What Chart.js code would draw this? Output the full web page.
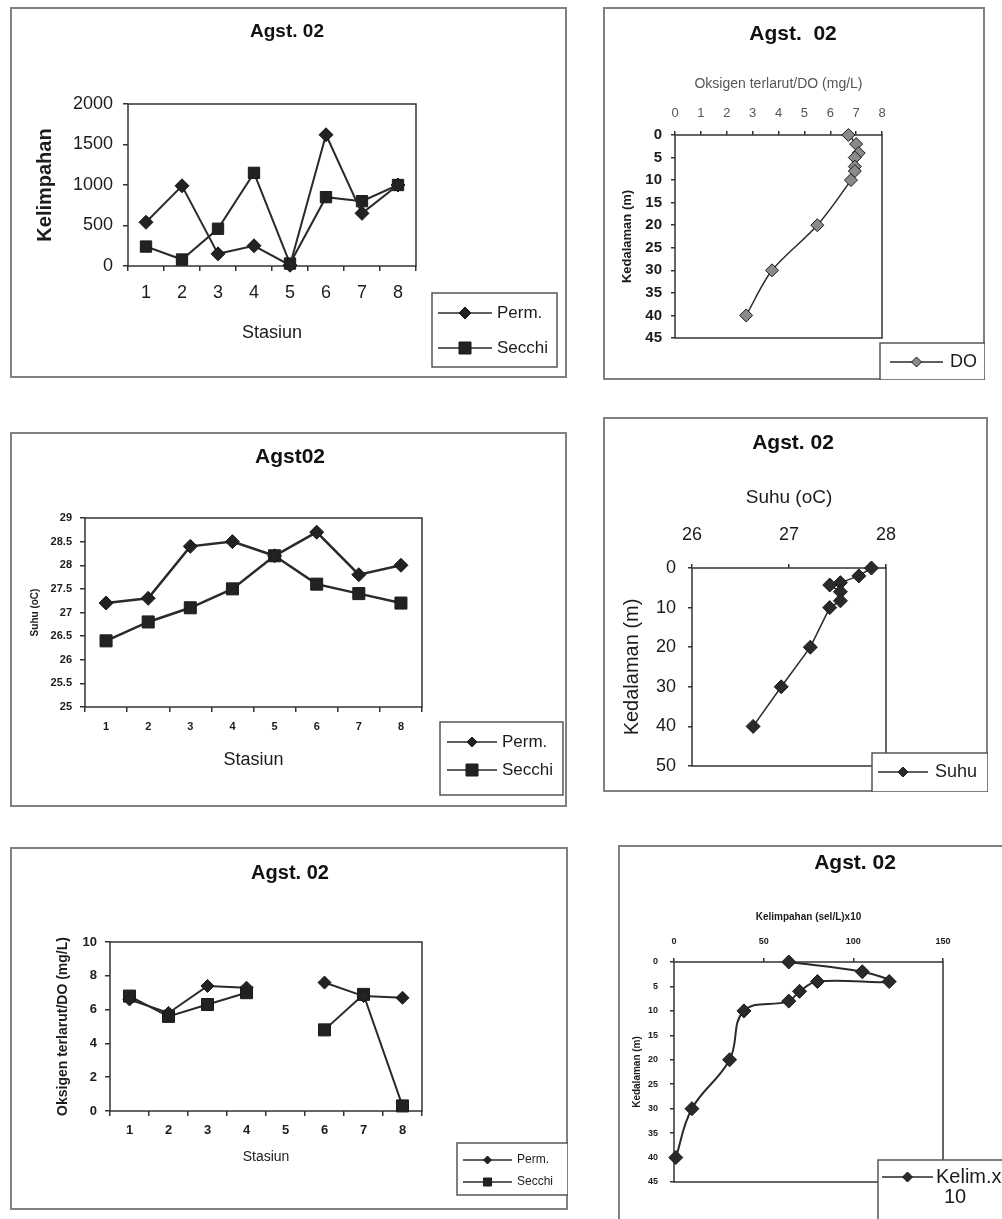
<!DOCTYPE html>
<html>
<head>
<meta charset="utf-8">
<script src="https://cdn.jsdelivr.net/npm/chart.js@4.4.1/dist/chart.umd.min.js"></script>
<style>
  body { margin: 0; background: #fff; }
  #page { position: relative; width: 1002px; height: 1219px; overflow: hidden; background: #fff; }
  canvas { position: absolute; }
</style>
</head>
<body>
<div id="page">
  <canvas id="kelimChart" width="557" height="371" style="left:10px;top:7px"></canvas>
  <canvas id="doProfileChart" width="382" height="373" style="left:603px;top:7px"></canvas>
  <canvas id="suhuChart" width="557" height="375" style="left:10px;top:432px"></canvas>
  <canvas id="suhuProfileChart" width="385" height="375" style="left:603px;top:417px"></canvas>
  <canvas id="doChart" width="558" height="363" style="left:10px;top:847px"></canvas>
  <canvas id="kelimProfileChart" width="480" height="400" style="left:618px;top:845px"></canvas>
</div>
<script>
const stations = ['1', '2', '3', '4', '5', '6', '7', '8'];

const kelimPerm = [540, 990, 150, 250, 10, 1620, 650, 1000];
const kelimSecchi = [240, 80, 460, 1150, 30, 850, 800, 1000];

const suhuPerm = [27.2, 27.3, 28.4, 28.5, 28.2, 28.7, 27.8, 28.0];
const suhuSecchi = [26.4, 26.8, 27.1, 27.5, 28.2, 27.6, 27.4, 27.2];

const doPerm = [6.6, 5.8, 7.4, 7.3, null, 7.6, 6.8, 6.7];
const doSecchi = [6.8, 5.6, 6.3, 7.0, null, 4.8, 6.9, 0.3];

const doDepth = [0, 2, 4, 5, 7, 8, 10, 20, 30, 40];
const doProfile = [6.7, 7.0, 7.1, 6.95, 6.95, 6.95, 6.8, 5.5, 3.75, 2.75];

const suhuDepth = [0, 2, 3.7, 4.3, 6, 8.3, 10, 20, 30, 40];
const suhuProfile = [27.85, 27.72, 27.53, 27.42, 27.53, 27.53, 27.42, 27.22, 26.92, 26.63];

const kelimDepth = [0, 2, 4, 4, 6, 8, 10, 20, 30, 40];
const kelimProfile = [64, 105, 120, 80, 70, 64, 39, 31, 10, 1];

const FONT = '"Liberation Sans", Arial, sans-serif';
const INK = '#1c1c1c';
const LINE = '#2a2a2a';

Chart.defaults.font.family = FONT;
Chart.defaults.color = INK;

// plain numbers, no thousands separator or forced decimals
const plainTick = (value) => String(value);

const drawMarker = (ctx, style, x, y, half) => {
  ctx.beginPath();
  if (style === 'rect') {
    ctx.rect(x - half, y - half, half * 2, half * 2);
  } else {
    ctx.moveTo(x - half, y);
    ctx.lineTo(x, y - half);
    ctx.lineTo(x + half, y);
    ctx.lineTo(x, y + half);
    ctx.closePath();
  }
  ctx.fill();
  ctx.stroke();
};

// panel frame, plot frame, title and boxed legend (Excel look)
const panelPlugin = {
  id: 'panel',
  beforeDraw(chart, args, opts) {
    const { ctx, width, height, chartArea: a } = chart;
    ctx.save();
    ctx.fillStyle = '#fff';
    ctx.fillRect(0, 0, width, height);
    ctx.strokeStyle = '#808080';
    ctx.lineWidth = 2;
    ctx.strokeRect(1, 1, width - 2, height - 2);
    ctx.strokeStyle = '#333';
    ctx.lineWidth = 1.5;
    ctx.strokeRect(a.left, a.top, a.right - a.left, a.bottom - a.top);
    ctx.restore();
  },
  afterDraw(chart, args, opts) {
    const { ctx } = chart;
    ctx.save();
    if (opts.title) {
      ctx.font = `bold ${opts.title.size}px ${FONT}`;
      ctx.fillStyle = '#111';
      ctx.textAlign = 'center';
      ctx.textBaseline = 'middle';
      ctx.fillText(opts.title.text, opts.title.x, opts.title.y);
    }
    const lg = opts.legend;
    if (lg) {
      ctx.fillStyle = '#fff';
      ctx.fillRect(lg.x, lg.y, lg.w, lg.h);
      ctx.strokeStyle = '#555';
      ctx.lineWidth = 1.5;
      ctx.strokeRect(lg.x, lg.y, lg.w, lg.h);
      chart.data.datasets.forEach((ds, i) => {
        const y = lg.rows[i];
        ctx.strokeStyle = ds.borderColor;
        ctx.lineWidth = 1.5;
        ctx.beginPath();
        ctx.moveTo(lg.sx, y);
        ctx.lineTo(lg.sx + lg.len, y);
        ctx.stroke();
        ctx.fillStyle = ds.pointBackgroundColor;
        ctx.strokeStyle = ds.pointBorderColor;
        ctx.lineWidth = 1;
        drawMarker(ctx, ds.pointStyle, lg.sx + lg.len / 2, y, lg.marker[i]);
        ctx.fillStyle = INK;
        ctx.font = `${lg.size}px ${FONT}`;
        ctx.textAlign = 'left';
        ctx.textBaseline = 'middle';
        const parts = lg.wrap ? ds.label.split(' ') : [ds.label];
        ctx.fillText(parts[0], lg.tx, y);
        if (parts[1]) {
          ctx.textAlign = 'center';
          ctx.fillText(parts[1], lg.wrap.x, y + lg.wrap.dy);
        }
      });
    }
    ctx.restore();
  },
};

const tickGrid = (tickLength) => ({
  display: true,
  drawOnChartArea: false,
  drawTicks: true,
  tickLength,
  color: '#333',
  lineWidth: 1.5,
});

const baseOptions = (padding, panel, scales) => ({
  responsive: false,
  animation: false,
  devicePixelRatio: 1,
  layout: { padding },
  plugins: {
    legend: { display: false },
    title: { display: false },
    tooltip: { enabled: false },
    panel,
  },
  scales,
});

const seriesStyle = (style, radius, lineWidth, fill) => ({
  borderColor: LINE,
  borderWidth: lineWidth,
  pointStyle: style,
  pointRadius: radius,
  pointBackgroundColor: fill || '#222',
  pointBorderColor: '#1a1a1a',
  pointBorderWidth: 1,
  tension: 0,
  clip: false,
  spanGaps: false,
});

const buildStationChart = (id, cfg) => {
  const ctx = document.getElementById(id).getContext('2d');
  return new Chart(ctx, {
    type: 'line',
    data: {
      labels: stations,
      datasets: [
        { label: 'Perm.', data: cfg.perm, ...seriesStyle('rectRot', cfg.diamond, cfg.lineWidth) },
        { label: 'Secchi', data: cfg.secchi, ...seriesStyle('rect', cfg.square, cfg.lineWidth) },
      ],
    },
    options: baseOptions(cfg.padding, { title: cfg.title, legend: cfg.legend }, {
      x: {
        type: 'category',
        offset: true,
        grid: { ...tickGrid(5), offset: true },
        border: { display: false },
        ticks: { font: cfg.xTickFont, padding: cfg.xTickPad, color: INK },
        title: { display: true, text: 'Stasiun', font: cfg.xTitleFont, color: INK, padding: 0 },
        afterFit: (scale) => { scale.height = cfg.xHeight; },
      },
      y: {
        min: cfg.yMin,
        max: cfg.yMax,
        grid: tickGrid(5),
        border: { display: false },
        ticks: { stepSize: cfg.yStep, font: cfg.yTickFont, padding: cfg.yTickPad, color: INK, callback: plainTick },
        title: { display: true, text: cfg.yTitle, font: cfg.yTitleFont, color: INK, padding: { top: cfg.yTitlePad, bottom: 0 } },
        afterFit: (scale) => { scale.width = cfg.yWidth; },
      },
    }),
    plugins: [panelPlugin],
  });
};

const buildProfileChart = (id, cfg) => {
  const ctx = document.getElementById(id).getContext('2d');
  const points = cfg.depth.map((d, i) => ({ x: cfg.values[i], y: d }));
  return new Chart(ctx, {
    type: 'line',
    data: {
      datasets: [
        { label: cfg.label, data: points, ...seriesStyle('rectRot', cfg.radius, cfg.lineWidth, cfg.fill), tension: cfg.tension },
      ],
    },
    options: baseOptions(cfg.padding, { title: cfg.title, legend: cfg.legend }, {
      x: {
        type: 'linear',
        position: 'top',
        min: cfg.xMin,
        max: cfg.xMax,
        grid: tickGrid(4),
        border: { display: false },
        ticks: { stepSize: cfg.xStep, font: cfg.xTickFont, padding: cfg.xTickPad, color: cfg.xColor || INK, callback: plainTick },
        title: { display: true, text: cfg.xTitle, font: cfg.xTitleFont, color: cfg.xColor || INK, padding: { top: cfg.xTitlePad, bottom: 0 } },
        afterFit: (scale) => { scale.height = cfg.xHeight; },
      },
      y: {
        type: 'linear',
        reverse: true,
        min: 0,
        max: cfg.yMax,
        grid: tickGrid(4),
        border: { display: false },
        ticks: { stepSize: cfg.yStep, font: cfg.yTickFont, padding: cfg.yTickPad, color: INK, callback: plainTick },
        title: { display: true, text: 'Kedalaman (m)', font: cfg.yTitleFont, color: INK, padding: { top: cfg.yTitlePad, bottom: 0 } },
        afterFit: (scale) => { scale.width = cfg.yWidth; },
      },
    }),
    plugins: [panelPlugin],
  });
};

document.addEventListener('DOMContentLoaded', () => {
  buildStationChart('kelimChart', {
    perm: kelimPerm,
    secchi: kelimSecchi,
    diamond: 7,
    square: 8,
    lineWidth: 2,
    padding: { left: 0, top: 97, right: 151, bottom: 34 },
    yWidth: 118,
    xHeight: 78,
    yMin: 0,
    yMax: 2000,
    yStep: 500,
    yTitle: 'Kelimpahan',
    yTitleFont: { size: 20, weight: 'bold' },
    yTitlePad: 23,
    yTickFont: { size: 18 },
    yTickPad: 10,
    xTickFont: { size: 18 },
    xTickPad: 11,
    xTitleFont: { size: 18 },
    title: { text: 'Agst. 02', size: 19, x: 277, y: 25 },
    legend: { x: 422, y: 286, w: 125, h: 74, rows: [306, 341], sx: 428, len: 54, tx: 487, size: 17, marker: [6, 6] },
  });

  buildStationChart('suhuChart', {
    perm: suhuPerm,
    secchi: suhuSecchi,
    diamond: 7,
    square: 8.5,
    lineWidth: 2.5,
    padding: { left: 0, top: 86, right: 145, bottom: 36 },
    yWidth: 75,
    xHeight: 64,
    yMin: 25,
    yMax: 29,
    yStep: 0.5,
    yTitle: 'Suhu (oC)',
    yTitleFont: { size: 10, weight: 'bold' },
    yTitlePad: 19,
    yTickFont: { size: 11, weight: 'bold' },
    yTickPad: 8,
    xTickFont: { size: 11, weight: 'bold' },
    xTickPad: 8,
    xTitleFont: { size: 18 },
    title: { text: 'Agst02', size: 21, x: 280, y: 25 },
    legend: { x: 430, y: 290, w: 123, h: 73, rows: [310, 338], sx: 437, len: 50, tx: 492, size: 17, marker: [5, 6] },
  });

  buildStationChart('doChart', {
    perm: doPerm,
    secchi: doSecchi,
    diamond: 6.5,
    square: 8.5,
    lineWidth: 2,
    padding: { left: 0, top: 95, right: 146, bottom: 44 },
    yWidth: 100,
    xHeight: 55,
    yMin: 0,
    yMax: 10,
    yStep: 2,
    yTitle: 'Oksigen terlarut/DO (mg/L)',
    yTitleFont: { size: 14, weight: 'bold' },
    yTitlePad: 45,
    yTickFont: { size: 13, weight: 'bold' },
    yTickPad: 8,
    xTickFont: { size: 13, weight: 'bold' },
    xTickPad: 7,
    xTitleFont: { size: 14 },
    title: { text: 'Agst. 02', size: 20, x: 280, y: 26 },
    legend: { x: 447, y: 296, w: 111, h: 52, rows: [313, 335], sx: 453, len: 49, tx: 507, size: 12, marker: [4, 4] },
  });

  buildProfileChart('doProfileChart', {
    label: 'DO',
    depth: doDepth,
    values: doProfile,
    radius: 6.5,
    lineWidth: 1.5,
    fill: '#8a8a8a',
    tension: 0.3,
    padding: { left: 0, top: 60, right: 103, bottom: 42 },
    xHeight: 68,
    yWidth: 72,
    xMin: 0,
    xMax: 8,
    xStep: 1,
    xColor: '#555',
    xTitle: 'Oksigen terlarut/DO (mg/L)',
    xTitleFont: { size: 14 },
    xTitlePad: 9,
    xTickFont: { size: 13 },
    xTickPad: 10,
    yMax: 45,
    yStep: 5,
    yTickFont: { size: 15, weight: 'bold' },
    yTickPad: 9,
    yTitleFont: { size: 13, weight: 'bold' },
    yTitlePad: 17,
    title: { text: 'Agst.  02', size: 21, x: 190, y: 27 },
    legend: { x: 277, y: 336, w: 105, h: 37, rows: [355], sx: 287, len: 53, tx: 347, size: 18, marker: [5] },
  });

  buildProfileChart('suhuProfileChart', {
    label: 'Suhu',
    depth: suhuDepth,
    values: suhuProfile,
    radius: 7,
    lineWidth: 1.5,
    fill: '#2a2a2a',
    tension: 0,
    padding: { left: 0, top: 50, right: 102, bottom: 26 },
    xHeight: 101,
    yWidth: 89,
    xMin: 26,
    xMax: 28,
    xStep: 1,
    xTitle: 'Suhu (oC)',
    xTitleFont: { size: 19 },
    xTitlePad: 19,
    xTickFont: { size: 18 },
    xTickPad: 18,
    yMax: 50,
    yStep: 10,
    yTickFont: { size: 18 },
    yTickPad: 12,
    yTitleFont: { size: 20 },
    yTitlePad: 17,
    title: { text: 'Agst. 02', size: 21, x: 190, y: 26 },
    legend: { x: 269, y: 336, w: 116, h: 39, rows: [355], sx: 275, len: 50, tx: 332, size: 18, marker: [5] },
  });

  buildProfileChart('kelimProfileChart', {
    label: 'Kelim.x 10',
    depth: kelimDepth,
    values: kelimProfile,
    radius: 7,
    lineWidth: 2,
    fill: '#2a2a2a',
    tension: 0.4,
    padding: { left: 0, top: 40, right: 155, bottom: 63 },
    xHeight: 77,
    yWidth: 56,
    xMin: 0,
    xMax: 150,
    xStep: 50,
    xTitle: 'Kelimpahan (sel/L)x10',
    xTitleFont: { size: 10, weight: 'bold' },
    xTitlePad: 26,
    xTickFont: { size: 9, weight: 'bold' },
    xTickPad: 11,
    yMax: 45,
    yStep: 5,
    yTickFont: { size: 9, weight: 'bold' },
    yTickPad: 12,
    yTitleFont: { size: 10, weight: 'bold' },
    yTitlePad: 13,
    title: { text: 'Agst. 02', size: 21, x: 237, y: 18 },
    legend: { x: 260, y: 315, w: 220, h: 85, rows: [332], sx: 264, len: 51, tx: 318, size: 20, marker: [5], wrap: { x: 337, dy: 20 } },
  });
});
</script>
</body>
</html>
